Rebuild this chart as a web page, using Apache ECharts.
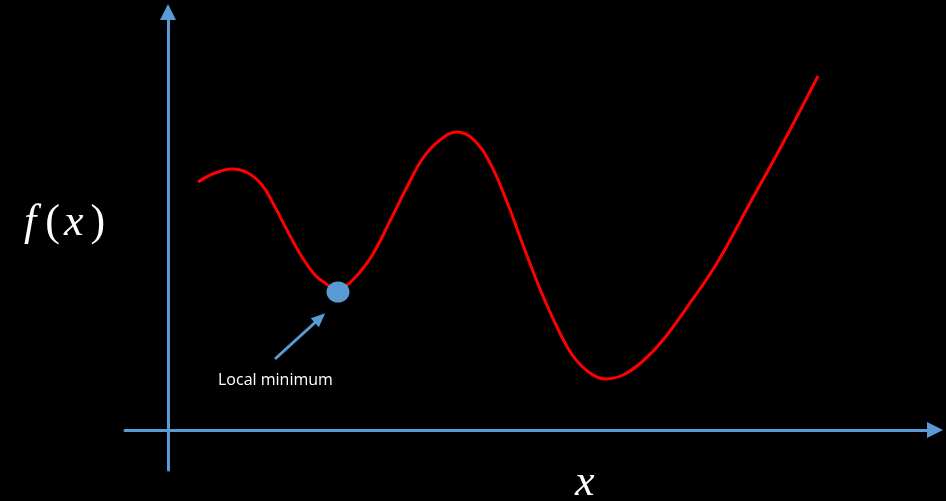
<!DOCTYPE html>
<html>
<head>
<meta charset="utf-8">
<title>Local minimum</title>
<script src="https://cdn.jsdelivr.net/npm/echarts@6/dist/echarts.min.js"></script>
<style>
  html, body { margin: 0; padding: 0; background: #000; }
  #main { width: 946px; height: 501px; }
</style>
</head>
<body>
<div id="main"></div>
<script>
// curve samples (x, f(x))
var curveX = [30, 47, 64, 80, 94, 107, 120, 134, 147, 157, 168, 179, 192, 205, 222, 239, 255, 272,
  289, 305, 322, 339, 355, 372, 389, 405, 422, 437, 455, 475, 495, 522, 549, 582, 615, 650];
var curveY = [248, 257, 261, 257, 245, 223, 198, 173, 155, 147, 141, 145, 158, 176, 209, 243, 272, 290,
  298, 291, 267, 228, 185, 141, 103, 74, 57, 51, 55, 69, 90, 127, 167, 227, 287, 354];

// the local minimum marked with a dot
var minPoint = [170, 138];
// pointer arrow, from -> to
var arrowFrom = [107, 71];
var arrowTo = [152, 112];

var axisBlue = "#5b9bd5";

var curveData = [];
for (var i = 0; i < curveX.length; i++) {
  curveData.push([curveX[i], curveY[i]]);
}

var chart = echarts.init(document.getElementById("main"));
var option = {
  backgroundColor: "#000",
  animation: false,
  grid: { left: 125, right: 11, top: 12, bottom: 31 },
  xAxis: {
    type: "value",
    min: -43,
    max: 767,
    axisLine: {
      onZero: true,
      symbol: ["none", "triangle"],
      symbolSize: [16, 16],
      lineStyle: { color: axisBlue, width: 3 },
    },
    axisTick: { show: false },
    axisLabel: { show: false },
    splitLine: { show: false },
  },
  yAxis: {
    type: "value",
    min: -40,
    max: 418,
    axisLine: {
      onZero: true,
      symbol: ["none", "triangle"],
      symbolSize: [16, 16],
      lineStyle: { color: axisBlue, width: 3 },
    },
    axisTick: { show: false },
    axisLabel: { show: false },
    splitLine: { show: false },
  },
  graphic: [
    {
      type: "text",
      left: 24,
      top: 201,
      style: {
        text: "{f|f}{n|(}{x|x}{n|)}",
        fill: "#fff",
        rich: {
          f: { fontFamily: "Liberation Serif", fontStyle: "italic", fontSize: 44, fill: "#fff", padding: [0, 9, 0, 2] },
          x: { fontFamily: "Liberation Serif", fontStyle: "italic", fontSize: 44, fill: "#fff", padding: [0, 7, 0, 4] },
          n: { fontFamily: "Liberation Serif", fontSize: 44, fill: "#fff" },
        },
      },
    },
    {
      type: "text",
      left: 575,
      top: 461,
      style: {
        text: "x",
        fill: "#fff",
        font: "italic 44px 'Liberation Serif'",
      },
    },
    {
      type: "text",
      left: 218,
      top: 372,
      style: {
        text: "Local minimum",
        fill: "#fff",
        font: "16px 'Open Sans'",
      },
    },
  ],
  series: [
    {
      type: "line",
      data: curveData,
      smooth: 0.4,
      showSymbol: false,
      lineStyle: { color: "#ff0000", width: 3 },
      z: 3,
    },
    {
      type: "scatter",
      data: [minPoint],
      symbolSize: [23, 21],
      itemStyle: { color: axisBlue, opacity: 1 },
      z: 4,
      markLine: {
        silent: true,
        symbol: ["none", "triangle"],
        symbolSize: [12, 14],
        label: { show: false },
        lineStyle: { color: axisBlue, width: 3, type: "solid" },
        data: [[{ coord: arrowFrom }, { coord: arrowTo }]],
      },
    },
  ],
};
chart.setOption(option);
</script>
</body>
</html>
